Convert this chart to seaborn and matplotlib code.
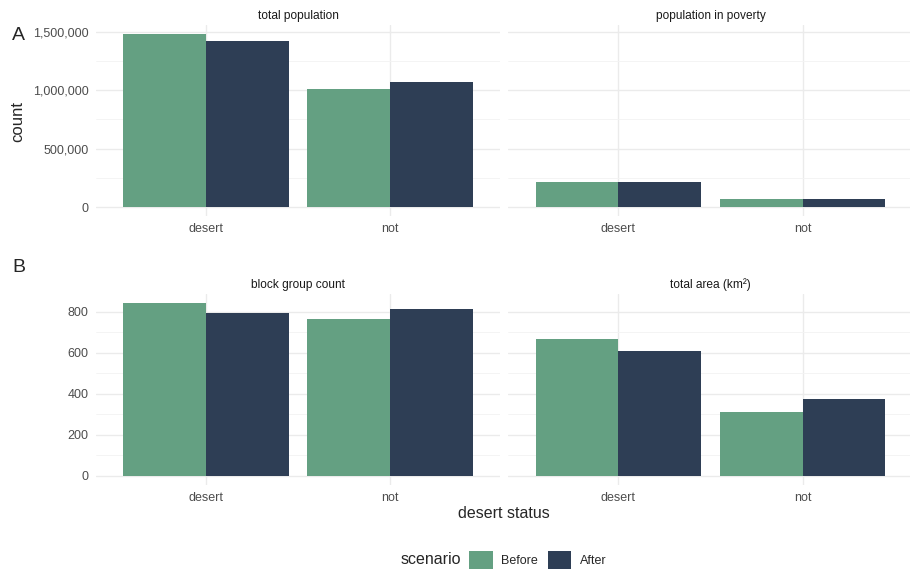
import pandas as pd
import matplotlib
matplotlib.use("Agg")
import matplotlib.pyplot as plt
import seaborn as sns
from matplotlib.ticker import MultipleLocator, FuncFormatter
from matplotlib.patches import Patch

# данні
status = ["desert", "not"]
scenarios = ["Before", "After"]
colors = ["#64a082", "#2e3e55"]

panel_titles = ["total population", "population in poverty",
                "block group count", "total area (km²)"]

total_pop_before = [1485000, 1011000]
total_pop_after = [1426000, 1071000]
poverty_before = [211000, 66000]
poverty_after = [211000, 66000]
block_before = [844, 763]
block_after = [792, 811]
area_before = [667, 311]
area_after = [608, 373]

panel_values = [
    (total_pop_before, total_pop_after),
    (poverty_before, poverty_after),
    (block_before, block_after),
    (area_before, area_after),
]

rows = []
for title, (before, after) in zip(panel_titles, panel_values):
    for s, b, a in zip(status, before, after):
        rows.append({"panel": title, "status": s, "scenario": "Before", "count": b})
        rows.append({"panel": title, "status": s, "scenario": "After", "count": a})
df = pd.DataFrame(rows)

sns.set_style("white")
plt.rcParams["font.family"] = ["Liberation Sans", "DejaVu Sans"]

fig = plt.figure(figsize=(9.1, 5.71), dpi=100)

W, H = 910, 571
def box(x0, x1, ytop, ybot):
    return [x0 / W, 1 - ybot / H, (x1 - x0) / W, (ybot - ytop) / H]

positions = [
    box(95.5, 500.5, 25, 215.7),
    box(508, 913, 25, 215.7),
    box(95.5, 500.5, 294, 484.6),
    box(508, 913, 294, 484.6),
]

row_max = [
    max(total_pop_before + total_pop_after + poverty_before + poverty_after),
    max(block_before + block_after + area_before + area_after),
]
major_step = [500000, 200]

for i, title in enumerate(panel_titles):
    ax = fig.add_axes(positions[i])
    r = i // 2
    sub = df[df["panel"] == title]
    sns.barplot(data=sub, x="status", y="count", hue="scenario",
                order=status, hue_order=scenarios, palette=colors,
                width=0.9, gap=0, saturation=1, errorbar=None,
                legend=False, ax=ax, zorder=3, linewidth=0)
    pad = row_max[r] * 0.05
    ax.set_ylim(-pad, row_max[r] + pad)
    ax.set_xlim(-0.6, 1.6)
    ax.yaxis.set_major_locator(MultipleLocator(major_step[r]))
    ax.yaxis.set_minor_locator(MultipleLocator(major_step[r] / 2))
    ax.grid(which="major", axis="both", color="#ebebeb", lw=1.0, zorder=0)
    ax.grid(which="minor", axis="y", color="#f3f3f3", lw=0.6, zorder=0)
    ax.set_axisbelow(True)
    for sp in ax.spines.values():
        sp.set_visible(False)
    ax.tick_params(which="both", length=0, labelsize=9, labelcolor="#4d4d4d", pad=5)
    if r == 0:
        ax.yaxis.set_major_formatter(FuncFormatter(lambda v, p: f"{v:,.0f}"))
    if i % 2 == 1:
        ax.tick_params(axis="y", labelleft=False)
    ax.set_xlabel("")
    ax.set_ylabel("")
    ax.set_title(title, fontsize=8.6, color="#1a1a1a", pad=4)

fig.text(12 / W, 1 - 36 / H, "A", fontsize=14, ha="left", va="center")
fig.text(12 / W, 1 - 268 / H, "B", fontsize=14, ha="left", va="center")
fig.text(18 / W, 1 - 121 / H, "count", fontsize=12, rotation=90, ha="center", va="center")
fig.text(504 / W, 1 - 513 / H, "desert status", fontsize=11.5, ha="center", va="center")

fig.text(461 / W, 1 - 560 / H, "scenario", fontsize=11.5, ha="right", va="center")
handles = [Patch(facecolor=c, edgecolor="none") for c in colors]
fig.legend(handles, scenarios, loc="center", bbox_to_anchor=(538 / W, 1 - 560 / H),
           ncol=2, frameon=False, fontsize=9, handlelength=1.85, handleheight=1.85,
           handletextpad=0.7, columnspacing=0.8, borderpad=0, borderaxespad=0)

fig.savefig("out.png", dpi=100)
